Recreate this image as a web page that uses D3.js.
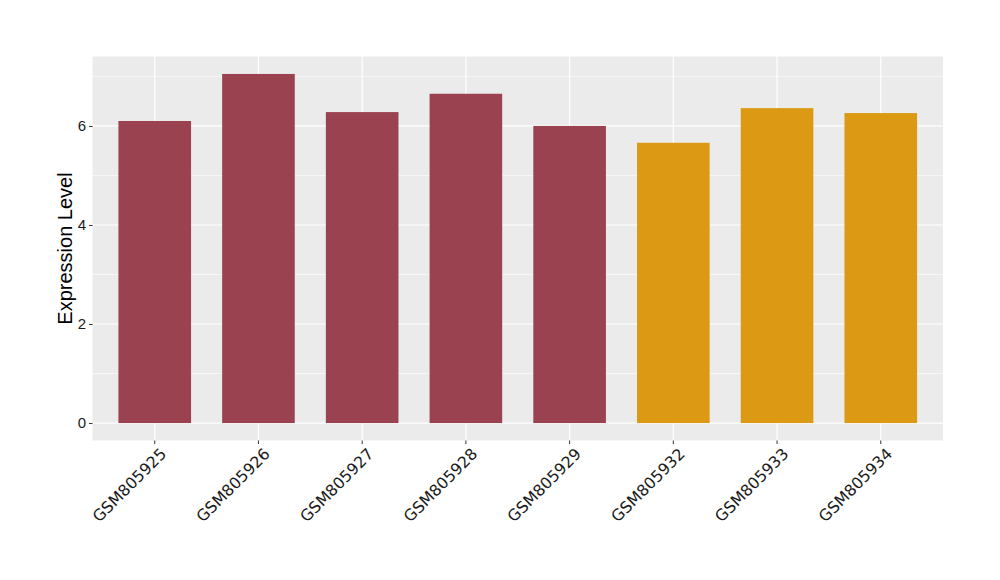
<!DOCTYPE html>
<html>
<head>
<meta charset="utf-8">
<script src="https://cdn.jsdelivr.net/npm/d3@7"></script>
<style>
  body { margin: 0; background: #fff; }
</style>
</head>
<body>
<script>
// sample ids and expression values
const samples = ["GSM805925", "GSM805926", "GSM805927", "GSM805928",
                 "GSM805929", "GSM805932", "GSM805933", "GSM805934"];
const values = [6.10, 7.05, 6.28, 6.65, 6.00, 5.66, 6.36, 6.26];
const groups = ["a", "a", "a", "a", "a", "b", "b", "b"];
const yTicks = [0, 2, 4, 6];
const yMinor = [1, 3, 5, 7];

const W = 1000, H = 580;
const panel = {left: 92.5, top: 56.5, right: 943, bottom: 440.5};
const groupColor = {a: "#9A4250", b: "#DC9914"};

const data = samples.map((s, i) => ({id: s, value: values[i], group: groups[i]}));

const svg = d3.select("body").append("svg")
    .attr("width", W)
    .attr("height", H);

// ggplot-like expansion: 5% on y, 0.6 units on a discrete x
const yMax = d3.max(values);
const pad = yMax * 0.05;
const y = d3.scaleLinear()
    .domain([-pad, yMax + pad])
    .range([panel.bottom, panel.top]);

// band centres sit 0.6 units from the panel edge, bars are 0.7 units wide
const unit = (panel.right - panel.left) / (samples.length - 1 + 1.2);
const x = d3.scaleBand()
    .domain(samples)
    .range([panel.left + 0.1 * unit, panel.right - 0.1 * unit])
    .paddingInner(0.3)
    .paddingOuter(0.15);

//panel background
svg.append("rect")
    .attr("x", panel.left)
    .attr("y", panel.top)
    .attr("width", panel.right - panel.left)
    .attr("height", panel.bottom - panel.top)
    .attr("fill", "#EBEBEB");

const grid = svg.append("g").attr("class", "grid");

grid.selectAll("line.minor")
    .data(yMinor.filter(v => y(v) >= panel.top))
    .enter().append("line")
    .attr("class", "minor")
    .attr("x1", panel.left).attr("x2", panel.right)
    .attr("y1", d => y(d)).attr("y2", d => y(d))
    .attr("stroke", "#fff").attr("stroke-width", 0.6);

grid.selectAll("line.major")
    .data(yTicks)
    .enter().append("line")
    .attr("class", "major")
    .attr("x1", panel.left).attr("x2", panel.right)
    .attr("y1", d => y(d)).attr("y2", d => y(d))
    .attr("stroke", "#fff").attr("stroke-width", 1.2);

grid.selectAll("line.vert")
    .data(samples)
    .enter().append("line")
    .attr("class", "vert")
    .attr("x1", d => x(d) + x.bandwidth() / 2).attr("x2", d => x(d) + x.bandwidth() / 2)
    .attr("y1", panel.top).attr("y2", panel.bottom)
    .attr("stroke", "#fff").attr("stroke-width", 1.2);

//bars
svg.append("g")
    .selectAll("rect")
    .data(data)
    .enter().append("rect")
    .attr("x", d => x(d.id))
    .attr("width", x.bandwidth())
    .attr("y", d => y(d.value))
    .attr("height", d => y(0) - y(d.value))
    .attr("fill", d => groupColor[d.group]);

//axes
const yAxis = svg.append("g")
    .attr("transform", `translate(${panel.left},0)`)
    .call(d3.axisLeft(y).tickValues(yTicks).tickSize(3.5).tickPadding(3));
yAxis.select(".domain").remove();
yAxis.selectAll("line").attr("stroke", "#333");
yAxis.selectAll("text")
    .attr("font-family", "Liberation Sans, Arial, sans-serif")
    .attr("font-size", 15)
    .attr("fill", "#1a1a1a");

const xAxis = svg.append("g")
    .attr("transform", `translate(0,${panel.bottom})`)
    .call(d3.axisBottom(x).tickSize(3.5).tickPadding(3));
xAxis.select(".domain").remove();
xAxis.selectAll("line").attr("stroke", "#333");
xAxis.selectAll("text")
    .attr("font-family", "DejaVu Sans, sans-serif")
    .attr("font-size", 15.8)
    .attr("fill", "#1a1a1a")
    .attr("text-anchor", "end")
    .attr("dy", "0.35em")
    .attr("transform", "translate(4,6) rotate(-45)");

svg.append("text")
    .attr("transform", `translate(72,${(panel.top + panel.bottom) / 2}) rotate(-90)`)
    .attr("text-anchor", "middle")
    .attr("font-family", "Liberation Sans, Arial, sans-serif")
    .attr("font-size", 20)
    .attr("fill", "#000")
    .text("Expression Level");
</script>
</body>
</html>
